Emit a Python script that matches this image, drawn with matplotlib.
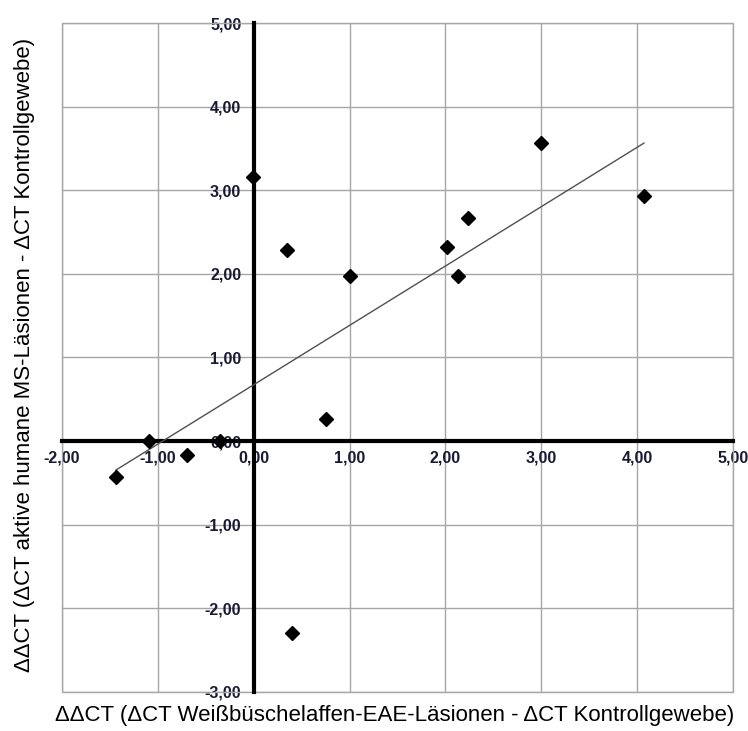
import numpy as np
import matplotlib
matplotlib.use("Agg")
import matplotlib.pyplot as plt
from matplotlib.patches import Rectangle

plt.rcParams["font.family"] = ["Liberation Sans", "DejaVu Sans"]

# data
x_vals = [-1.44, -1.09, -0.70, -0.35, -0.01, 0.35, 0.40, 0.75, 1.00, 2.02, 2.13, 2.23, 3.00, 4.07]
y_vals = [-0.43, 0.00, -0.17, 0.00, 3.16, 2.28, -2.30, 0.26, 1.97, 2.32, 1.97, 2.67, 3.56, 2.93]
x_ticks = [-2, -1, 0, 1, 2, 3, 4, 5]
y_ticks = [-3, -2, -1, 0, 1, 2, 3, 4, 5]
x_label = "ΔΔCT (ΔCT Weißbüschelaffen-EAE-Läsionen - ΔCT Kontrollgewebe)"
y_label = "ΔΔCT (ΔCT aktive humane MS-Läsionen - ΔCT Kontrollgewebe)"

x = np.array(x_vals)
y = np.array(y_vals)

fig = plt.figure(figsize=(7.48, 7.31), dpi=100)
ax = fig.add_axes([0.083, 0.0534, 0.897, 0.9151])

ax.set_xlim(-2, 5)
ax.set_ylim(-3, 5)
ax.set_xticks(x_ticks)
ax.set_yticks(y_ticks)
fmt = lambda v: f"{v:.2f}".replace(".", ",")
ax.set_xticklabels([fmt(v) for v in x_ticks])
ax.set_yticklabels([fmt(v) for v in y_ticks])
ax.grid(True, color="#a6a6a6", lw=1)
ax.set_axisbelow(True)

# axes crossing at origin
ax.spines["left"].set_position(("data", 0))
ax.spines["bottom"].set_position(("data", 0))
for s in ("left", "bottom"):
    ax.spines[s].set_linewidth(3)
    ax.spines[s].set_zorder(2)
for s in ("top", "right"):
    ax.spines[s].set_visible(False)
ax.add_patch(Rectangle((0, 0), 1, 1, transform=ax.transAxes, fill=False,
                       ec="#a6a6a6", lw=1, zorder=1, clip_on=False))

ax.tick_params(length=0, labelsize=11.5, labelcolor="#1a1a33")
ax.tick_params(axis="y", pad=9)
ax.tick_params(axis="x", pad=7)
for lab in ax.get_xticklabels() + ax.get_yticklabels():
    lab.set_fontweight("bold")

# linear trend line
k, b = np.polyfit(x, y, 1)
xt = np.array([x.min(), x.max()])
ax.plot(xt, k * xt + b, color="#505050", lw=1, zorder=3)

ax.plot(x, y, "D", color="black", ms=7, zorder=4, clip_on=False)

fig.text(0.528, 0.021, x_label, ha="center", va="center", fontsize=16)
fig.text(0.033, 0.514, y_label, ha="center", va="center", fontsize=16, rotation=90)

fig.savefig("out.png", dpi=100)
